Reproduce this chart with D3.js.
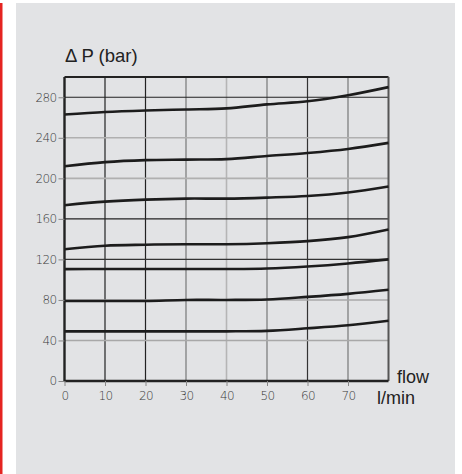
<!DOCTYPE html>
<html><head><meta charset="utf-8">
<script src="https://cdn.jsdelivr.net/npm/d3@7"></script>
<style>html,body{margin:0;padding:0;background:#fff;}svg{display:block;}</style>
</head><body>
<svg id="c" width="462" height="474"></svg>
<script>
const flow = [0, 10, 20, 30, 40, 50, 60, 70, 80];
const curve1 = [263, 265.5, 267, 268, 269, 273, 276, 282, 290];
const curve2 = [212, 216, 218, 218.5, 219, 222, 225, 229, 235];
const curve3 = [173.5, 177, 179, 180, 180, 181, 182.5, 186, 192];
const curve4 = [130, 133.5, 134.5, 135, 135, 136, 138, 142, 149.5];
const curve5 = [110.4, 110.5, 110.5, 110.5, 110.5, 111, 113, 116, 120];
const curve6 = [79, 79, 79, 80, 80, 80.5, 83, 86, 90];
const curve7 = [49, 49, 49, 49, 49, 49.5, 52, 55, 59.5];
const xTicks = [0, 10, 20, 30, 40, 50, 60, 70];
const yTicks = [0, 40, 80, 120, 160, 200, 240, 280];
const yTitle = "Δ P (bar)";
const xTitle1 = "flow";
const xTitle2 = "l/min";

const svg = d3.select("#c");
svg.append("rect").attr("x",0).attr("y",3).attr("width",2.5).attr("height",471).attr("fill","#e52421");
svg.append("rect").attr("x",16).attr("y",3).attr("width",439).attr("height",471).attr("fill","#e2e3e5");

const x = d3.scaleLinear().domain([0,80]).range([64.5,388.5]);
const y = d3.scaleLinear().domain([0,300]).range([381,77]);

const vStyle = {10:"#222",20:"#222",30:"#777",40:"#b5b5b5",50:"#777",60:"#333",70:"#777"};
svg.append("g").selectAll("line").data(xTicks.filter(d=>d>0)).join("line")
  .attr("x1",d=>x(d)).attr("x2",d=>x(d)).attr("y1",y(300)).attr("y2",y(0))
  .attr("stroke",d=>vStyle[d]).attr("stroke-width",d=>d===40?1.6:1.2);
const hStyle = {40:"#a8a8a8",80:"#a8a8a8",120:"#333",160:"#222",200:"#b0b0b0",240:"#b0b0b0",280:"#222"};
svg.append("g").selectAll("line").data(yTicks.filter(d=>d>0)).join("line")
  .attr("x1",x(0)).attr("x2",x(80)).attr("y1",d=>y(d)).attr("y2",d=>y(d))
  .attr("stroke",d=>hStyle[d]).attr("stroke-width",d=>(hStyle[d]==="#222"||hStyle[d]==="#333")?1.2:1.6);

svg.append("line").attr("x1",x(0)).attr("x2",x(80)).attr("y1",y(300)).attr("y2",y(300)).attr("stroke","#222").attr("stroke-width",2);
svg.append("line").attr("x1",x(80)).attr("x2",x(80)).attr("y1",y(300)).attr("y2",y(0)).attr("stroke","#555").attr("stroke-width",2);

const line = d3.line().x((d,i)=>x(flow[i])).y(d=>y(d)).curve(d3.curveCatmullRom.alpha(0.5));
[curve1,curve2,curve3,curve4,curve5,curve6,curve7].forEach(c=>{
  svg.append("path").attr("d",line(c)).attr("fill","none").attr("stroke","#1c1c1c").attr("stroke-width",2.6);
});

const tickFont = "'DejaVu Sans','Liberation Sans',sans-serif";
const yAxis = svg.append("g").attr("transform",`translate(${x(0)},0)`)
  .call(d3.axisLeft(y).tickValues(yTicks).tickSize(6).tickPadding(2));
const xAxis = svg.append("g").attr("transform",`translate(0,${y(0)})`)
  .call(d3.axisBottom(x).tickValues(xTicks).tickSize(5).tickPadding(5));
[yAxis,xAxis].forEach(a=>{
  a.select(".domain").attr("stroke","#222").attr("stroke-width",2.4);
  a.selectAll(".tick line").attr("stroke","#888").attr("stroke-width",1);
  a.selectAll("text").attr("font-family",tickFont).attr("font-size",12).attr("fill","#3a3a3a")
    .attr("font-weight",200).attr("letter-spacing",-0.6);
});
xAxis.select(".domain").attr("d",`M${x(0)},0H${x(80)}`);
yAxis.select(".domain").attr("d",`M0,${y(0)}V${y(300)}`);

const titleFont = "'Liberation Sans',Arial,sans-serif";
svg.append("text").attr("x",65).attr("y",62).attr("font-family",titleFont).attr("font-size",18.5).attr("fill","#222").text(yTitle);
svg.append("text").attr("x",397).attr("y",383).attr("font-family",titleFont).attr("font-size",18).attr("fill","#222").text(xTitle1);
svg.append("text").attr("x",377).attr("y",404).attr("font-family",titleFont).attr("font-size",18).attr("fill","#222").text(xTitle2);
</script>
</body></html>
